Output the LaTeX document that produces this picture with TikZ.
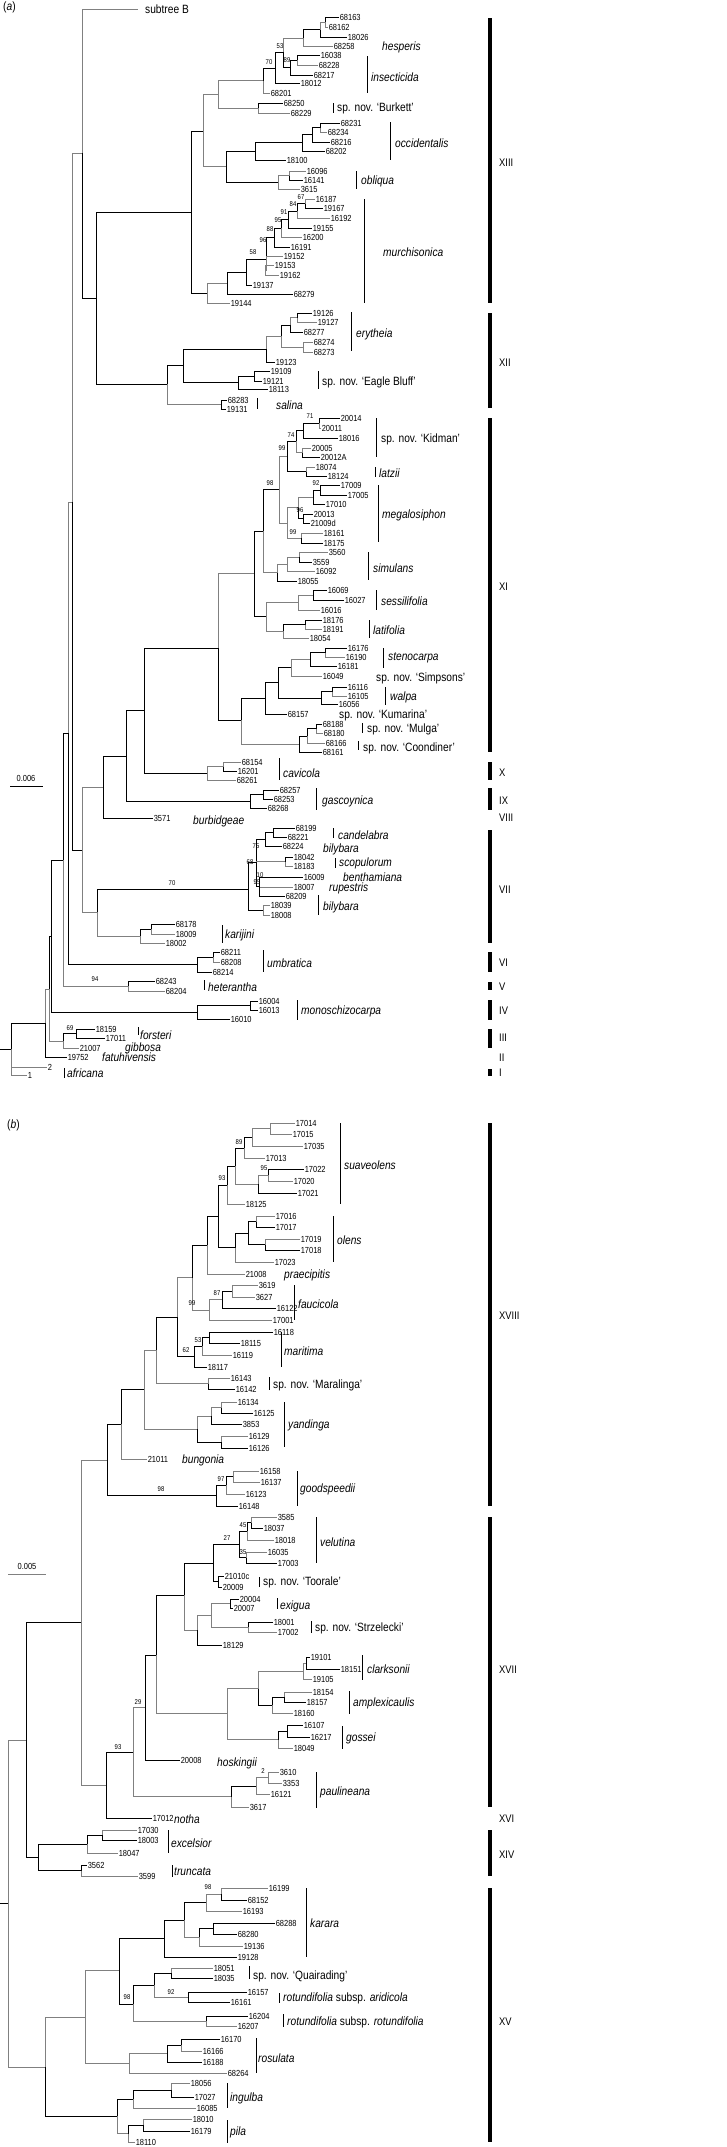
\documentclass[tikz,border=0pt]{standalone}
\usepackage{fontspec}
\setmainfont[FakeStretch=0.85]{Liberation Sans}
\definecolor{kb}{gray}{0}
\definecolor{kg}{gray}{0.5}
\newcommand\fnum{\fontsize{8.8}{9}\selectfont}
\newcommand\fspc{\fontsize{12}{13}\selectfont}
\newcommand\fbsl{\fontsize{7}{7}\selectfont}
\newcommand\frmn{\fontsize{11}{12}\selectfont}
\newcommand\Tip[3]{\coordinate (t#3) at (#1,#2); \node[num] (l#3) at (t#3) {#3};}
\newcommand\Nd[3]{\coordinate (#1) at (#2,#3);}
\newcommand\Kids[2]{\foreach \c/\s in {#2}{\draw[br,draw=\s] (#1) |- (\c);}}
\newcommand\BsL[3]{\node[bs] at (#1,#2) {#3};}
\newcommand\SpL[3]{\node[sp] at (#1,#2) {#3};}
\newcommand\Vb[3]{\draw[sbar] (#1,#2) -- (#1,#3);}
\newcommand\Gb[2]{\draw[cbar] (490,#1) -- (490,#2);}
\newcommand\Rn[2]{\node[rom] at (499,#1) {#2};}
\begin{document}
\begin{tikzpicture}[x=1pt,y=-1pt,
 br/.style={line width=0.9pt},
 num/.style={anchor=west,inner sep=0.6pt,font=\fnum},
 sp/.style={anchor=west,inner sep=0pt,font=\fspc},
 bs/.style={inner sep=0pt,font=\fbsl},
 rom/.style={anchor=west,inner sep=0pt,font=\frmn},
 sbar/.style={line width=0.6pt},
 cbar/.style={line width=3.2pt}]
\fill[white] (0,0) rectangle (726,2147);
\useasboundingbox (0,0) rectangle (726,2147);
\node[sp,anchor=west] (capa) at (3,7) {(\textit{a})};
\node[sp,anchor=west] (capb) at (7,1125) {(\textit{b})};
% ================= PART A =================
\coordinate (tB) at (138,9); \node[sp] (lB) at (145,9) {subtree B};
\Tip{339}{17}{68163}\Tip{328}{27}{68162}\Tip{347}{37}{18026}\Tip{333}{46}{68258}
\Tip{320}{55}{16038}\Tip{318}{65}{68228}\Tip{313}{75}{68217}\Tip{300}{83}{18012}
\Tip{270}{93}{68201}\Tip{283}{103}{68250}\Tip{290}{113}{68229}
\Nd{aH3}{325}{22}\Kids{aH3}{t68163/kb,t68162/kg}
\Nd{aH2}{320}{29.5}\Kids{aH2}{aH3/kg,t18026/kb}
\Nd{aH1}{303}{38}\Kids{aH1}{aH2/kb,t68258/kg}
\Nd{aH4}{297}{60}\Kids{aH4}{t16038/kb,t68228/kg}
\Nd{a89}{290}{67}\Kids{a89}{aH4/kb,t68217/kb}
\Nd{a53}{283}{52}\Kids{a53}{aH1/kg,a89/kb}
\Nd{a53p}{275}{68}\Kids{a53p}{a53/kb,t18012/kb}
\Nd{a70}{263}{80.5}\Kids{a70}{a53p/kb,t68201/kg}
\Nd{aBk}{258}{108}\Kids{aBk}{t68250/kb,t68229/kg}
\Nd{aA2}{218}{94}\Kids{aA2}{a70/kg,aBk/kg}
\Tip{340}{123}{68231}\Tip{327}{132}{68234}\Tip{330}{142}{68216}\Tip{325}{151}{68202}\Tip{286}{160}{18100}
\Nd{aO4}{320}{127.5}\Kids{aO4}{t68231/kb,t68234/kg}
\Nd{aO3}{312}{134}\Kids{aO3}{aO4/kb,t68216/kb}
\Nd{aO2}{302}{142.5}\Kids{aO2}{aO3/kb,t68202/kb}
\Nd{aOc}{255}{151}\Kids{aOc}{aO2/kb,t18100/kb}
\Tip{306}{171}{16096}\Tip{303}{180}{16141}\Tip{300}{189}{3615}
\Nd{aOb2}{289}{175.5}\Kids{aOb2}{t16096/kg,t16141/kb}
\Nd{aOb}{278}{182}\Kids{aOb}{aOb2/kg,t3615/kg}
\Nd{aA3}{226}{166}\Kids{aA3}{aOc/kb,aOb/kb}
\Nd{aA1}{203}{131}\Kids{aA1}{aA2/kg,aA3/kg}
\Tip{315}{199}{16187}\Tip{323}{208}{19167}\Tip{330}{218}{16192}\Tip{312}{228}{19155}
\Tip{302}{237}{16200}\Tip{290}{247}{16191}\Tip{283}{256}{19152}\Tip{274}{265}{19153}
\Tip{279}{275}{19162}\Tip{252}{285}{19137}\Tip{293}{294}{68279}\Tip{230}{303}{19144}
\Nd{aM7}{305}{203.5}\Kids{aM7}{t16187/kg,t19167/kb}
\Nd{aM6}{297}{211}\Kids{aM6}{aM7/kb,t16192/kg}
\Nd{aM5}{288}{219.5}\Kids{aM5}{aM6/kb,t19155/kb}
\Nd{aM4}{281}{228}\Kids{aM4}{aM5/kb,t16200/kg}
\Nd{aM3}{274}{237.5}\Kids{aM3}{aM4/kb,t16191/kb}
\Nd{aM2b}{265}{270}\Kids{aM2b}{t19153/kg,t19162/kg}
\Nd{aM2}{266}{259}\Kids{aM2}{aM3/kb,t19152/kg,aM2b/kg}
\Nd{aM1}{246}{272}\Kids{aM1}{aM2/kb,t19137/kb}
\Nd{aM0}{227}{283}\Kids{aM0}{aM1/kb,t68279/kb}
\Nd{aMu}{207}{293}\Kids{aMu}{aM0/kg,t19144/kg}
\Nd{aN191}{191}{212}\Kids{aN191}{aA1/kb,aMu/kb}
\Tip{312}{313}{19126}\Tip{317}{322}{19127}\Tip{303}{332}{68277}\Tip{313}{342}{68274}
\Tip{313}{352}{68273}\Tip{275}{362}{19123}\Tip{270}{371}{19109}\Tip{262}{381}{19121}
\Tip{268}{389}{18113}\Tip{227}{400}{68283}\Tip{226}{409}{19131}
\Nd{aE4}{297}{317.5}\Kids{aE4}{t19126/kb,t19127/kg}
\Nd{aE3}{290}{325}\Kids{aE3}{aE4/kg,t68277/kb}
\Nd{aE5}{303}{347}\Kids{aE5}{t68274/kg,t68273/kg}
\Nd{aE2}{281}{336}\Kids{aE2}{aE3/kb,aE5/kg}
\Nd{aEr}{266}{349}\Kids{aEr}{aE2/kg,t19123/kb}
\Nd{aEB2}{254}{376}\Kids{aEB2}{t19109/kb,t19121/kb}
\Nd{aEB}{238}{382}\Kids{aEB}{aEB2/kb,t18113/kb}
\Nd{aN183}{183}{365}\Kids{aN183}{aEr/kb,aEB/kb}
\Nd{aSa}{221}{404.5}\Kids{aSa}{t68283/kb,t19131/kb}
\Nd{aN167}{167}{384}\Kids{aN167}{aN183/kb,aSa/kg}
\Nd{aN96}{96}{298}\Kids{aN96}{aN191/kb,aN167/kb}
\Nd{aN82a}{82}{153}\Kids{aN82a}{tB/kg,aN96/kb}
% XI
\Tip{340}{418}{20014}\Tip{321}{428}{20011}\Tip{338}{438}{18016}\Tip{311}{448}{20005}
\Tip{320}{457}{20012A}\Tip{315}{467}{18074}\Tip{327}{476}{18124}
\Nd{aK3}{319}{423}\Kids{aK3}{t20014/kb,t20011/kg}
\Nd{aK2}{303}{430}\Kids{aK2}{aK3/kb,t18016/kb}
\Nd{aK4}{302}{452.5}\Kids{aK4}{t20005/kg,t20012A/kb}
\Nd{aK1}{296}{441}\Kids{aK1}{aK2/kb,aK4/kg}
\Nd{aLz}{306}{471.5}\Kids{aLz}{t18074/kg,t18124/kb}
\Nd{aK0}{287}{456}\Kids{aK0}{aK1/kb,aLz/kb}
\Tip{340}{485}{17009}\Tip{347}{495}{17005}\Tip{325}{504}{17010}\Tip{313}{514}{20013}
\Tip{310}{523}{21009d}\Tip{323}{533}{18161}\Tip{323}{543}{18175}
\Nd{aMg4}{320}{490}\Kids{aMg4}{t17009/kb,t17005/kb}
\Nd{aMg3}{313}{497}\Kids{aMg3}{aMg4/kb,t17010/kb}
\Nd{aMg5}{303}{518.5}\Kids{aMg5}{t20013/kb,t21009d/kb}
\Nd{aMg2}{298}{507.5}\Kids{aMg2}{aMg3/kg,aMg5/kb}
\Nd{aMg6}{301}{538}\Kids{aMg6}{t18161/kg,t18175/kb}
\Nd{aMg}{287}{523}\Kids{aMg}{aMg2/kg,aMg6/kg}
\Nd{a99}{279}{489}\Kids{a99}{aK0/kg,aMg/kg}
\Tip{328}{552}{3560}\Tip{312}{562}{3559}\Tip{315}{571}{16092}\Tip{297}{581}{18055}
\Nd{aSi3}{299}{557}\Kids{aSi3}{t3560/kg,t3559/kb}
\Nd{aSi2}{287}{564}\Kids{aSi2}{aSi3/kg,t16092/kg}
\Nd{aSi}{277}{572.5}\Kids{aSi}{aSi2/kg,t18055/kb}
\Nd{a98}{263}{531}\Kids{a98}{a99/kb,aSi/kg}
\Tip{327}{590}{16069}\Tip{344}{600}{16027}\Tip{320}{610}{16016}
\Tip{322}{620}{18176}\Tip{322}{629}{18191}\Tip{309}{638}{18054}
\Nd{aSe2}{313}{595}\Kids{aSe2}{t16069/kb,t16027/kb}
\Nd{aSe}{298}{602.5}\Kids{aSe}{aSe2/kg,t16016/kg}
\Nd{aLf2}{305}{624.5}\Kids{aLf2}{t18176/kb,t18191/kg}
\Nd{aLf}{283}{631}\Kids{aLf}{aLf2/kb,t18054/kg}
\Nd{aSL}{266}{616.5}\Kids{aSL}{aSe/kg,aLf/kg}
\Nd{aN254}{254}{573}\Kids{aN254}{a98/kb,aSL/kb}
\Tip{347}{648}{16176}\Tip{345}{657}{16190}\Tip{337}{666}{16181}\Tip{322}{676}{16049}
\Tip{347}{687}{16116}\Tip{347}{696}{16105}\Tip{338}{704}{16056}\Tip{287}{714}{68157}
\Tip{322}{724}{68188}\Tip{323}{733}{68180}\Tip{325}{743}{68166}\Tip{322}{752}{68161}
\Nd{aSt2}{325}{652.5}\Kids{aSt2}{t16176/kb,t16190/kg}
\Nd{aSt}{310}{659}\Kids{aSt}{aSt2/kb,t16181/kb}
\Nd{aSS}{291}{667.5}\Kids{aSS}{aSt/kg,t16049/kg}
\Nd{aW2}{332}{691.5}\Kids{aW2}{t16116/kb,t16105/kg}
\Nd{aW}{321}{698}\Kids{aW}{aW2/kb,t16056/kb}
\Nd{aSW}{278}{682}\Kids{aSW}{aSS/kb,aW/kb}
\Nd{aKu}{265}{698}\Kids{aKu}{aSW/kb,t68157/kb}
\Nd{aMu3}{316}{728.5}\Kids{aMu3}{t68188/kb,t68180/kg}
\Nd{aMu2}{307}{736}\Kids{aMu2}{aMu3/kb,t68166/kg}
\Nd{aMC}{299}{744}\Kids{aMC}{aMu2/kb,t68161/kb}
\Nd{aN241}{241}{720}\Kids{aN241}{aKu/kb,aMC/kg}
\Nd{aN218}{218}{648}\Kids{aN218}{aN254/kg,aN241/kb}
\Tip{241}{762}{68154}\Tip{237}{771}{16201}\Tip{236}{780}{68261}
\Nd{aCv2}{223}{766.5}\Kids{aCv2}{t68154/kg,t16201/kb}
\Nd{aCv}{207}{773}\Kids{aCv}{aCv2/kg,t68261/kg}
\Nd{aN144}{144}{710}\Kids{aN144}{aN218/kb,aCv/kb}
\Tip{279}{790}{68257}\Tip{273}{799}{68253}\Tip{267}{808}{68268}
\Nd{aGs2}{263}{794.5}\Kids{aGs2}{t68257/kb,t68253/kb}
\Nd{aGs}{250}{801}\Kids{aGs}{aGs2/kb,t68268/kb}
\Nd{aN126}{126}{756}\Kids{aN126}{aN144/kb,aGs/kb}
\Tip{153}{818}{3571}
\Nd{aN103}{103}{787}\Kids{aN103}{aN126/kb,t3571/kb}
% VII
\Tip{295}{828}{68199}\Tip{287}{837}{68221}\Tip{282}{846}{68224}\Tip{293}{857}{18042}
\Tip{293}{866}{18183}\Tip{303}{877}{16009}\Tip{293}{887}{18007}\Tip{285}{896}{68209}
\Tip{270}{905}{18039}\Tip{270}{915}{18008}
\Nd{aV4}{273}{832.5}\Kids{aV4}{t68199/kb,t68221/kb}
\Nd{aV3}{265}{839}\Kids{aV3}{aV4/kb,t68224/kb}
\Nd{aV5}{285}{861.5}\Kids{aV5}{t18042/kb,t18183/kg}
\Nd{aV6}{259}{886}\Kids{aV6}{t16009/kb,t18007/kg,t68209/kb}
\Nd{aV75}{256}{862}\Kids{aV75}{aV3/kb,aV5/kg,aV6/kb}
\Nd{aBl}{263}{910}\Kids{aBl}{t18039/kg,t18008/kg}
\Nd{aV68}{248}{889}\Kids{aV68}{aV75/kb,aBl/kb}
\Tip{175}{924}{68178}\Tip{175}{934}{18009}\Tip{165}{943}{18002}
\Nd{aKa2}{151}{929}\Kids{aKa2}{t68178/kb,t18009/kg}
\Nd{aKa}{140}{936}\Kids{aKa}{aKa2/kb,t18002/kg}
\Nd{aN97}{97}{912}\Kids{aN97}{aV68/kb,aKa/kg}
\Nd{aN82b}{82}{850}\Kids{aN82b}{aN103/kg,aN97/kg}
\Nd{aN72}{72}{502}\Kids{aN72}{aN82a/kg,aN82b/kb}
\Tip{220}{952}{68211}\Tip{220}{962}{68208}\Tip{212}{972}{68214}
\Nd{aUm2}{213}{957}\Kids{aUm2}{t68211/kb,t68208/kg}
\Nd{aUm}{197}{964.5}\Kids{aUm}{aUm2/kb,t68214/kb}
\Nd{aN68}{68}{733}\Kids{aN68}{aN72/kg,aUm/kb}
\Tip{155}{981}{68243}\Tip{165}{991}{68204}
\Nd{aHe}{128}{986}\Kids{aHe}{t68243/kb,t68204/kg}
\Nd{aN63}{63}{860}\Kids{aN63}{aN68/kb,aHe/kg}
\Tip{258}{1001}{16004}\Tip{258}{1010}{16013}\Tip{230}{1019}{16010}
\Nd{aMo2}{250}{1005.5}\Kids{aMo2}{t16004/kb,t16013/kb}
\Nd{aMo}{197}{1012}\Kids{aMo}{aMo2/kb,t16010/kb}
\Nd{aN51}{51.5}{936}\Kids{aN51}{aN63/kb,aMo/kb}
\Tip{95}{1029}{18159}\Tip{105}{1038}{17011}\Tip{79}{1048}{21007}\Tip{67}{1057}{19752}
\Tip{47}{1067}{2}\Tip{27}{1075}{1}
\Nd{aFo2}{76}{1033.5}\Kids{aFo2}{t18159/kb,t17011/kb}
\Nd{aFo}{63}{1041}\Kids{aFo}{aFo2/kb,t21007/kg}
\Nd{aN50}{49.5}{989}\Kids{aN50}{aN51/kb,aFo/kg}
\Nd{aN45}{45}{1023}\Kids{aN45}{aN50/kg,t19752/kb}
\Nd{aR}{11}{1049}\Kids{aR}{aN45/kb,t2/kg,t1/kg}
\coordinate (aRs) at (0,1049); \draw[br] (aRs) -- (aR);
% bootstrap (a)
\BsL{280}{46}{53}\BsL{269}{62}{70}\BsL{287}{60}{89}\BsL{301}{197}{67}\BsL{293}{204}{84}
\BsL{284}{212}{91}\BsL{278}{220}{95}\BsL{270}{229}{88}\BsL{263}{240}{96}\BsL{253}{252}{58}
\BsL{310}{416}{71}\BsL{291}{435}{74}\BsL{282}{448}{99}\BsL{270}{483}{98}\BsL{316}{483}{92}
\BsL{300}{510}{96}\BsL{293}{532}{99}\BsL{256}{846}{75}\BsL{250}{862}{68}\BsL{260}{875}{10}
\BsL{257}{882}{95}\BsL{172}{883}{70}\BsL{95}{979}{94}\BsL{70}{1028}{69}
% species (a)
\SpL{382}{47}{\textit{hesperis}}
\SpL{371}{77}{\textit{insecticida}}\Vb{367}{56}{93}
\SpL{337}{108}{sp. nov. ‘Burkett’}\Vb{333}{103}{113}
\SpL{395}{143}{\textit{occidentalis}}\Vb{390}{122}{160}
\SpL{361}{181}{\textit{obliqua}}\Vb{356}{171}{189}
\SpL{383}{252}{\textit{murchisonica}}\Vb{364}{199}{303}
\SpL{356}{334}{\textit{erytheia}}\Vb{351}{312}{351}
\SpL{322}{382}{sp. nov. ‘Eagle Bluff’}\Vb{318}{371}{389}
\SpL{276}{405}{\textit{salina}}\Vb{257}{398}{409}
\SpL{381}{439}{sp. nov. ‘Kidman’}\Vb{376}{418}{457}
\SpL{379}{473}{\textit{latzii}}\Vb{375}{467}{477}
\SpL{382}{515}{\textit{megalosiphon}}\Vb{378}{485}{542}
\SpL{373}{568}{\textit{simulans}}\Vb{368}{552}{580}
\SpL{381}{601}{\textit{sessilifolia}}\Vb{376}{590}{610}
\SpL{373}{630}{\textit{latifolia}}\Vb{369}{620}{638}
\SpL{388}{658}{\textit{stenocarpa}}\Vb{383}{648}{668}
\SpL{376}{678}{sp. nov. ‘Simpsons’}
\SpL{390}{697}{\textit{walpa}}\Vb{385}{687}{705}
\SpL{339}{715}{sp. nov. ‘Kumarina’}
\SpL{367}{729}{sp. nov. ‘Mulga’}\Vb{362}{723}{733}
\SpL{363}{748}{sp. nov. ‘Coondiner’}\Vb{358}{741}{750}
\SpL{283}{773}{\textit{cavicola}}\Vb{279}{758}{780}
\SpL{322}{801}{\textit{gascoynica}}\Vb{316}{788}{810}
\SpL{193}{821}{\textit{burbidgeae}}
\SpL{338}{835}{\textit{candelabra}}\Vb{333}{828}{838}
\SpL{323}{849}{\textit{bilybara}}
\SpL{339}{863}{\textit{scopulorum}}\Vb{335}{858}{868}
\SpL{343}{877}{\textit{benthamiana}}
\SpL{329}{888}{\textit{rupestris}}
\SpL{323}{907}{\textit{bilybara}}\Vb{318}{895}{915}
\SpL{225}{935}{\textit{karijini}}\Vb{222}{925}{943}
\SpL{267}{963}{\textit{umbratica}}\Vb{263}{950}{972}
\SpL{208}{987}{\textit{heterantha}}\Vb{204}{980}{990}
\SpL{301}{1011}{\textit{monoschizocarpa}}\Vb{297}{1000}{1020}
\SpL{140}{1035}{\textit{forsteri}}\Vb{138}{1027}{1035}
\SpL{125}{1048}{\textit{gibbosa}}
\SpL{102}{1057}{\textit{fatuhivensis}}
\SpL{67}{1073}{\textit{africana}}\Vb{64}{1068}{1078}
% groups (a)
\Gb{18}{303}\Rn{163}{XIII}
\Gb{313}{408}\Rn{363}{XII}
\Gb{418}{752}\Rn{587}{XI}
\Gb{762}{780}\Rn{773}{X}
\Gb{788}{810}\Rn{801}{IX}
\Rn{818}{VIII}
\Gb{830}{943}\Rn{890}{VII}
\Gb{952}{972}\Rn{963}{VI}
\Gb{982}{990}\Rn{987}{V}
\Gb{1000}{1020}\Rn{1011}{IV}
\Gb{1029}{1048}\Rn{1038}{III}
\Rn{1058}{II}
\Gb{1069}{1076}\Rn{1073}{I}
% scale (a)
\draw[line width=0.8pt] (10,786) -- (43,786);
\node[inner sep=0pt,font=\fnum] (sca) at (26,778) {0.006};
% ================= PART B =================
\Tip{295}{1123}{17014}\Tip{292}{1134}{17015}\Tip{303}{1146}{17035}\Tip{265}{1158}{17013}
\Tip{304}{1169}{17022}\Tip{293}{1181}{17020}\Tip{297}{1193}{17021}\Tip{245}{1204}{18125}
\Nd{bS5}{270}{1128.5}\Kids{bS5}{t17014/kg,t17015/kg}
\Nd{bS4}{252}{1137.5}\Kids{bS4}{bS5/kg,t17035/kg}
\Nd{bS3}{244}{1148}\Kids{bS3}{bS4/kb,t17013/kg}
\Nd{bS7}{268}{1175}\Kids{bS7}{t17022/kb,t17020/kg}
\Nd{bS6}{258}{1184}\Kids{bS6}{bS7/kg,t17021/kb}
\Nd{bS2}{235}{1166}\Kids{bS2}{bS3/kb,bS6/kg}
\Nd{bSu}{227}{1185}\Kids{bSu}{bS2/kb,t18125/kg}
\Tip{275}{1216}{17016}\Tip{275}{1227}{17017}\Tip{300}{1239}{17019}\Tip{300}{1250}{17018}
\Tip{274}{1262}{17023}\Tip{245}{1274}{21008}
\Nd{bO3}{256}{1221.5}\Kids{bO3}{t17016/kg,t17017/kb}
\Nd{bO4}{265}{1244.5}\Kids{bO4}{t17019/kg,t17018/kb}
\Nd{bO2}{248}{1233}\Kids{bO2}{bO3/kb,bO4/kb}
\Nd{bOl}{235}{1247.5}\Kids{bOl}{bO2/kb,t17023/kg}
\Nd{bSO}{218}{1216}\Kids{bSO}{bSu/kb,bOl/kb}
\Nd{bPr}{207}{1245}\Kids{bPr}{bSO/kb,t21008/kg}
\Tip{258}{1285}{3619}\Tip{255}{1297}{3627}\Tip{276}{1308}{16122}\Tip{272}{1320}{17001}
\Nd{bF3}{232}{1291}\Kids{bF3}{t3619/kg,t3627/kg}
\Nd{bF2}{222}{1299.5}\Kids{bF2}{bF3/kb,t16122/kb}
\Nd{bFa}{209}{1310}\Kids{bFa}{bF2/kg,t17001/kg}
\Nd{bN192}{192}{1277.5}\Kids{bN192}{bPr/kb,bFa/kg}
\Tip{273}{1332}{16118}\Tip{240}{1343}{18115}\Tip{232}{1355}{16119}\Tip{207}{1367}{18117}
\Nd{bMa3}{209}{1337.5}\Kids{bMa3}{t16118/kb,t18115/kb}
\Nd{bMa2}{202}{1346}\Kids{bMa2}{bMa3/kb,t16119/kg}
\Nd{bMa}{194}{1356.5}\Kids{bMa}{bMa2/kb,t18117/kb}
\Nd{bN177}{177}{1317}\Kids{bN177}{bN192/kg,bMa/kb}
\Tip{230}{1378}{16143}\Tip{235}{1389}{16142}
\Nd{bMl}{208}{1383.5}\Kids{bMl}{t16143/kg,t16142/kb}
\Nd{bN156}{156}{1350}\Kids{bN156}{bN177/kb,bMl/kg}
\Tip{237}{1402}{16134}\Tip{253}{1413}{16125}\Tip{242}{1424}{3853}\Tip{248}{1436}{16129}\Tip{248}{1448}{16126}
\Nd{bY3}{221}{1407.5}\Kids{bY3}{t16134/kg,t16125/kb}
\Nd{bY2}{211}{1416}\Kids{bY2}{bY3/kg,t3853/kb}
\Nd{bY4}{221}{1442}\Kids{bY4}{t16129/kg,t16126/kb}
\Nd{bYa}{197}{1429}\Kids{bYa}{bY2/kg,bY4/kb}
\Nd{bN144}{144}{1389.5}\Kids{bN144}{bN156/kg,bYa/kg}
\Tip{147}{1459}{21011}
\Nd{bN121}{121}{1424}\Kids{bN121}{bN144/kb,t21011/kg}
\Tip{259}{1471}{16158}\Tip{260}{1482}{16137}\Tip{245}{1494}{16123}\Tip{238}{1506}{16148}
\Nd{bG3}{233}{1476.5}\Kids{bG3}{t16158/kg,t16137/kg}
\Nd{bG2}{226}{1485}\Kids{bG2}{bG3/kb,t16123/kg}
\Nd{bGo}{216}{1495.5}\Kids{bGo}{bG2/kb,t16148/kb}
\Nd{bN107}{107}{1460}\Kids{bN107}{bN121/kb,bGo/kb}
% XVII
\Tip{277}{1517}{3585}\Tip{263}{1528}{18037}\Tip{274}{1540}{18018}\Tip{267}{1552}{16035}\Tip{277}{1563}{17003}
\Nd{bV4}{251}{1522.5}\Kids{bV4}{t3585/kg,t18037/kb}
\Nd{bV3}{247}{1531}\Kids{bV3}{bV4/kb,t18018/kg}
\Nd{bV5}{246}{1557.5}\Kids{bV5}{t16035/kg,t17003/kb}
\Nd{bVe}{239}{1544}\Kids{bVe}{bV3/kb,bV5/kb}
\Tip{224}{1576}{21010c}\Tip{222}{1587}{20009}
\Nd{bTo}{218}{1581.5}\Kids{bTo}{t21010c/kb,t20009/kb}
\Nd{b27}{213}{1563}\Kids{b27}{bVe/kb,bTo/kb}
\Tip{239}{1599}{20004}\Tip{233}{1608}{20007}\Tip{273}{1622}{18001}\Tip{277}{1632}{17002}\Tip{222}{1645}{18129}
\Nd{bEx}{230}{1603.5}\Kids{bEx}{t20004/kb,t20007/kb}
\Nd{bSz}{248}{1627}\Kids{bSz}{t18001/kb,t17002/kg}
\Nd{bEx2}{211}{1615}\Kids{bEx2}{bEx/kg,bSz/kg}
\Nd{bEx1}{197}{1630}\Kids{bEx1}{bEx2/kg,t18129/kb}
\Nd{bN184}{184}{1595}\Kids{bN184}{b27/kb,bEx1/kg}
\Tip{310}{1657}{19101}\Tip{340}{1669}{18151}\Tip{312}{1679}{19105}
\Tip{312}{1692}{18154}\Tip{306}{1702}{18157}\Tip{293}{1713}{18160}
\Tip{303}{1725}{16107}\Tip{310}{1737}{16217}\Tip{293}{1748}{18049}
\Nd{bC2}{306}{1663}\Kids{bC2}{t19101/kb,t18151/kb}
\Nd{bCl}{303}{1671}\Kids{bCl}{bC2/kg,t19105/kg}
\Nd{bA2}{284}{1697}\Kids{bA2}{t18154/kg,t18157/kb}
\Nd{bAm}{272}{1705}\Kids{bAm}{bA2/kb,t18160/kg}
\Nd{bCA}{258}{1688.5}\Kids{bCA}{bCl/kg,bAm/kb}
\Nd{bGs2}{287}{1731}\Kids{bGs2}{t16107/kb,t16217/kb}
\Nd{bGs}{278}{1739.5}\Kids{bGs}{bGs2/kb,t18049/kg}
\Nd{bCAG}{227}{1713.5}\Kids{bCAG}{bCA/kg,bGs/kg}
\Nd{bN156b}{156}{1655}\Kids{bN156b}{bN184/kb,bCAG/kg}
\Tip{180}{1760}{20008}
\Nd{bN145}{145}{1707.5}\Kids{bN145}{bN156b/kb,t20008/kb}
\Tip{279}{1772}{3610}\Tip{282}{1783}{3353}\Tip{270}{1794}{16121}\Tip{249}{1807}{3617}
\Nd{bP3}{268}{1777.5}\Kids{bP3}{t3610/kg,t3353/kg}
\Nd{bP2}{256}{1786}\Kids{bP2}{bP3/kg,t16121/kg}
\Nd{bPa}{231}{1796.5}\Kids{bPa}{bP2/kb,t3617/kg}
\Nd{bN133}{133}{1752}\Kids{bN133}{bN145/kg,bPa/kg}
\Tip{152}{1818}{17012}
\Nd{bN106}{106}{1785.5}\Kids{bN106}{bN133/kb,t17012/kb}
\Nd{bN81}{81}{1622}\Kids{bN81}{bN107/kg,bN106/kg}
% XIV
\Tip{137}{1830}{17030}\Tip{137}{1840}{18003}\Tip{118}{1853}{18047}\Tip{87}{1865}{3562}\Tip{138}{1876}{3599}
\Nd{bX2}{102}{1835}\Kids{bX2}{t17030/kg,t18003/kb}
\Nd{bX}{87}{1844}\Kids{bX}{bX2/kb,t18047/kg}
\Nd{bTr}{81}{1870.5}\Kids{bTr}{t3562/kb,t3599/kg}
\Nd{bN38}{38}{1857}\Kids{bN38}{bX/kb,bTr/kb}
\Nd{bN26}{26}{1740}\Kids{bN26}{bN81/kb,bN38/kb}
% XV
\Tip{268}{1888}{16199}\Tip{247}{1900}{68152}\Tip{242}{1911}{16193}\Tip{275}{1923}{68288}
\Tip{237}{1934}{68280}\Tip{243}{1946}{19136}\Tip{237}{1957}{19128}
\Nd{bK4}{221}{1894}\Kids{bK4}{t16199/kg,t68152/kb}
\Nd{bK3}{206}{1902.5}\Kids{bK3}{bK4/kg,t16193/kg}
\Nd{bK6}{213}{1928.5}\Kids{bK6}{t68288/kb,t68280/kb}
\Nd{bK5}{199}{1937}\Kids{bK5}{bK6/kb,t19136/kg}
\Nd{bK2}{184}{1920}\Kids{bK2}{bK3/kb,bK5/kg}
\Nd{bKa}{164}{1938.5}\Kids{bKa}{bK2/kb,t19128/kb}
\Tip{213}{1968}{18051}\Tip{213}{1978}{18035}\Tip{247}{1992}{16157}\Tip{230}{2002}{16161}
\Tip{248}{2016}{16204}\Tip{237}{2026}{16207}
\Nd{bQu}{171}{1973}\Kids{bQu}{t18051/kg,t18035/kb}
\Nd{bAr}{188}{1997}\Kids{bAr}{t16157/kb,t16161/kb}
\Nd{bQA}{154}{1985}\Kids{bQA}{bQu/kb,bAr/kg}
\Nd{bRR}{206}{2021}\Kids{bRR}{t16204/kb,t16207/kg}
\Nd{bQR}{133}{2004}\Kids{bQR}{bQA/kb,bRR/kg}
\Nd{bKQ}{119}{1970.5}\Kids{bKQ}{bKa/kb,bQR/kb}
\Tip{220}{2039}{16170}\Tip{202}{2051}{16166}\Tip{202}{2062}{16188}\Tip{227}{2073}{68264}
\Nd{bR3}{181}{2045}\Kids{bR3}{t16170/kb,t16166/kg}
\Nd{bR2}{167}{2053.5}\Kids{bR2}{bR3/kb,t16188/kb}
\Nd{bRo}{129}{2063}\Kids{bRo}{bR2/kg,t68264/kg}
\Nd{bN85}{85}{2017}\Kids{bN85}{bKQ/kg,bRo/kg}
\Tip{190}{2083}{18056}\Tip{194}{2097}{17027}\Tip{196}{2108}{16085}
\Tip{192}{2119}{18010}\Tip{190}{2131}{16179}\Tip{135}{2142}{18110}
\Nd{bIn2}{171}{2090}\Kids{bIn2}{t18056/kg,t17027/kb}
\Nd{bIn}{133}{2099}\Kids{bIn}{bIn2/kb,t16085/kg}
\Nd{bPi2}{143}{2125}\Kids{bPi2}{t18010/kg,t16179/kb}
\Nd{bPi}{128}{2133.5}\Kids{bPi}{bPi2/kb,t18110/kg}
\Nd{bIP}{117}{2116}\Kids{bIP}{bIn/kb,bPi/kg}
\Nd{bN45}{45}{2067}\Kids{bN45}{bN85/kg,bIP/kb}
\Nd{bR}{8}{1903}\Kids{bR}{bN26/kg,bN45/kg}
\coordinate (bRs) at (0,1903); \draw[br] (bRs) -- (bR);
% bootstrap (b)
\BsL{239}{1142}{89}\BsL{264}{1168}{95}\BsL{222}{1178}{93}\BsL{217}{1293}{87}\BsL{192}{1303}{99}
\BsL{198}{1340}{53}\BsL{186}{1350}{62}\BsL{221}{1479}{97}\BsL{161}{1489}{98}\BsL{243}{1525}{45}
\BsL{227}{1538}{27}\BsL{243}{1552}{35}\BsL{138}{1702}{29}\BsL{118}{1747}{93}\BsL{263}{1771}{2}
\BsL{208}{1887}{98}\BsL{171}{1992}{92}\BsL{127}{1997}{98}
% species (b)
\SpL{344}{1165}{\textit{suaveolens}}\Vb{340}{1123}{1204}
\SpL{337}{1240}{\textit{olens}}\Vb{333}{1216}{1262}
\SpL{284}{1275}{\textit{praecipitis}}
\SpL{298}{1304}{\textit{faucicola}}\Vb{294}{1285}{1320}
\SpL{284}{1351}{\textit{maritima}}\Vb{281}{1332}{1367}
\SpL{273}{1385}{sp. nov. ‘Maralinga’}\Vb{269}{1377}{1390}
\SpL{288}{1425}{\textit{yandinga}}\Vb{284}{1402}{1447}
\SpL{182}{1460}{\textit{bungonia}}
\SpL{300}{1489}{\textit{goodspeedii}}\Vb{297}{1471}{1506}
\SpL{320}{1542}{\textit{velutina}}\Vb{316}{1517}{1563}
\SpL{263}{1582}{sp. nov. ‘Toorale’}\Vb{259}{1577}{1587}
\SpL{280}{1606}{\textit{exigua}}\Vb{277}{1598}{1609}
\SpL{315}{1628}{sp. nov. ‘Strzelecki’}\Vb{311}{1621}{1633}
\SpL{367}{1669}{\textit{clarksonii}}\Vb{362}{1655}{1680}
\SpL{353}{1703}{\textit{amplexicaulis}}\Vb{349}{1691}{1714}
\SpL{346}{1738}{\textit{gossei}}\Vb{342}{1726}{1749}
\SpL{217}{1763}{\textit{hoskingii}}
\SpL{320}{1792}{\textit{paulineana}}\Vb{316}{1772}{1808}
\SpL{174}{1819}{\textit{notha}}
\SpL{171}{1843}{\textit{excelsior}}\Vb{168}{1830}{1853}
\SpL{174}{1872}{\textit{truncata}}\Vb{172}{1865}{1877}
\SpL{310}{1923}{\textit{karara}}\Vb{306}{1888}{1957}
\SpL{253}{1976}{sp. nov. ‘Quairading’}\Vb{249}{1966}{1979}
\SpL{283}{1998}{\textit{rotundifolia} subsp. \textit{aridicola}}\Vb{279}{1993}{2003}
\SpL{287}{2022}{\textit{rotundifolia} subsp. \textit{rotundifolia}}\Vb{283}{2014}{2027}
\SpL{258}{2058}{\textit{rosulata}}\Vb{256}{2038}{2073}
\SpL{230}{2098}{\textit{ingulba}}\Vb{227}{2083}{2108}
\SpL{230}{2132}{\textit{pila}}\Vb{227}{2120}{2143}
% groups (b)
\Gb{1123}{1506}\Rn{1316}{XVIII}
\Gb{1517}{1807}\Rn{1670}{XVII}
\Rn{1819}{XVI}
\Gb{1830}{1876}\Rn{1855}{XIV}
\Gb{1888}{2142}\Rn{2022}{XV}
% scale (b)
\draw[line width=0.8pt,draw=kg] (8,1574) -- (46,1574);
\node[inner sep=0pt,font=\fnum] (scb) at (27,1566) {0.005};
\end{tikzpicture}
\end{document}
